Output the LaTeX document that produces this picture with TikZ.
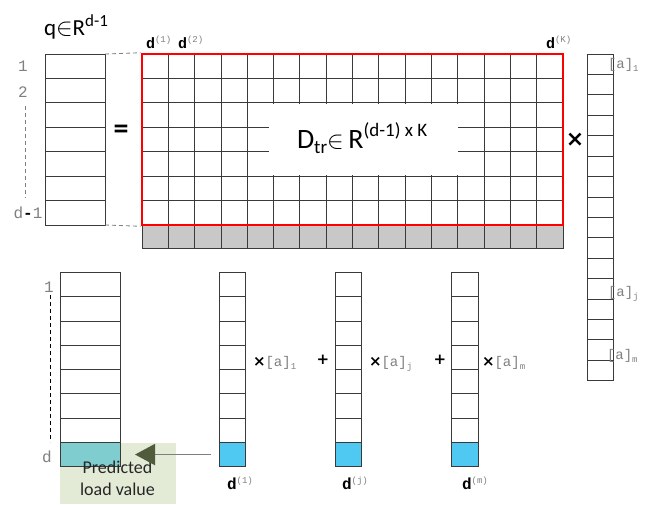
\documentclass[tikz,border=0pt]{standalone}
\usepackage{fontspec}
\setmainfont{Carlito}
\newfontfamily\monof{Liberation Mono}
\newfontfamily\djv{DejaVu Sans}
\usetikzlibrary{arrows.meta}
\definecolor{gridc}{HTML}{3A3A3A}
\definecolor{grayrow}{HTML}{C8C8C8}
\definecolor{tealc}{HTML}{80CDD0}
\definecolor{bluec}{HTML}{4FC8F2}
\definecolor{greenbox}{HTML}{E3EBD7}
\definecolor{olivec}{HTML}{4F5B3B}
\definecolor{lblgray}{HTML}{808080}
\definecolor{arrowgray}{HTML}{7F7F7F}
\newcommand\mysup[1]{\raisebox{6pt}{\fontsize{9}{9}\selectfont\color{lblgray}#1}}
\newcommand\mysub[1]{\raisebox{-3pt}{\fontsize{9}{9}\selectfont\color{lblgray}#1}}
\newcommand\dtop[1]{{\monof\bfseries\fontsize{15}{15}\selectfont d}{\monof\mysup{(#1)}}}
\newcommand\dbot[1]{{\monof\bfseries\fontsize{16}{16}\selectfont d}{\monof\mysup{(#1)}}}
\newcommand\acoef[1]{{\monof\fontsize{14}{14}\selectfont\color{lblgray}[a]}{\monof\mysub{#1}}}
\begin{document}
\begin{tikzpicture}[x=1pt,y=-1pt,
  gridline/.style={draw=gridc, line width=0.8pt},
  cellbox/.style={draw=gridc, line width=0.8pt, inner sep=0pt, outer sep=0pt},
  lbl/.style={inner sep=0pt, outer sep=0pt},
  monolbl/.style={lbl, font=\monof\fontsize{16}{16}\selectfont, text=lblgray},
  opsym/.style={lbl, font=\djv\bfseries\fontsize{15}{15}\selectfont}]
\fill[white] (0,0) rectangle (659,504);
\useasboundingbox (0,0) rectangle (659,504);

% ---------- q vector ----------
\node[cellbox, minimum width=60pt, minimum height=171pt] (q) at (75,139.5) {};
\foreach \i in {1,...,6} \draw[gridline] (45,54+\i*24.43) -- (105,54+\i*24.43);
\node[lbl, anchor=base west, font=\fontsize{23}{23}\selectfont] (qlab) at (44,35)
  {q$\in$R\raisebox{9pt}{\fontsize{17}{17}\selectfont d-1}};
\node[monolbl, anchor=base] (q1) at (23,71) {1};
\node[monolbl, anchor=base] (q2) at (23,97) {2};
\node[monolbl, anchor=base] (qd) at (28,218) {d{\color{black}\textbf{-}}1};
\coordinate (qdashA) at (25,106);
\coordinate (qdashB) at (25,198);
\draw[lblgray, line width=0.8pt, dash pattern=on 4pt off 3pt] (qdashA) -- (qdashB);

% ---------- matrix D ----------
\fill[grayrow] (142,225) rectangle (563,248);
\foreach \j in {1,...,15} \draw[gridline] (142+\j*26.3125,54) -- (142+\j*26.3125,248);
\foreach \i in {1,...,6} \draw[gridline] (142,54+\i*24.43) -- (563,54+\i*24.43);
\draw[gridline] (142,225) -- (142,248) -- (563,248) -- (563,225);
\fill[white] (269,103.8) rectangle (458.3,175.3);
\node[draw=red, line width=2.6pt, inner sep=0pt, minimum width=421pt, minimum height=171pt] (D) at (352.5,139.5) {};
\node[lbl, anchor=base west, font=\fontsize{28}{28}\selectfont] (Dlab) at (297,148)
  {D\raisebox{-5pt}{\fontsize{19}{19}\selectfont tr}$\in$\,R\raisebox{12pt}{\fontsize{19}{19}\selectfont (d-1) x K}};
\node[lbl, anchor=base west] (dt1) at (146,48) {\dtop{1}};
\node[lbl, anchor=base west] (dt2) at (178,48) {\dtop{2}};
\node[lbl, anchor=base west] (dtK) at (546,48) {\dtop{K}};
\draw[lblgray, line width=0.8pt, dash pattern=on 4pt off 3pt] (q.north east) -- (D.north west);
\draw[lblgray, line width=0.8pt, dash pattern=on 4pt off 3pt] (q.south east) -- (D.south west);
\node[lbl, font=\fontsize{30}{30}\selectfont\bfseries] (eq) at (121,132) {=};
\node[lbl, font=\djv\bfseries\fontsize{22}{22}\selectfont] (times) at (575,140) {×};

% ---------- coefficient vector a ----------
\node[cellbox, minimum width=26pt, minimum height=326.7pt] (a) at (600,217.35) {};
\foreach \i in {1,...,15} \draw[gridline] (587,54+\i*20.42) -- (613,54+\i*20.42);
\node[lbl, anchor=base west] (a1) at (608,68) {\acoef{1}};
\node[lbl, anchor=base west] (aj) at (608,296) {\acoef{j}};
\node[lbl, anchor=base west] (am) at (607,359) {\acoef{m}};

% ---------- bottom: prediction ----------
\node[fill=greenbox, inner sep=0pt, minimum width=116pt, minimum height=61pt] (predbox) at (118,473.5) {};
\node[cellbox, fill=tealc, minimum width=60pt, minimum height=24.3pt] (plast) at (90,454.55) {};
\node[cellbox, minimum width=60pt, minimum height=194.4pt] (p) at (90,369.5) {};
\foreach \i in {1,...,7} \draw[gridline] (60,272.3+\i*24.3) -- (120,272.3+\i*24.3);
\node[monolbl, anchor=base] (p1) at (49,292) {1};
\node[monolbl, anchor=base] (pd) at (47,462) {d};
\coordinate (pdashA) at (50.7,295);
\coordinate (pdashB) at (50.7,442);
\draw[black, line width=0.8pt, dash pattern=on 4pt off 3pt] (pdashA) -- (pdashB);
\node[lbl, anchor=base, font=\fontsize{18}{18}\selectfont, text={black!85}] (pt1) at (117.5,473) {Predicted};
\node[lbl, anchor=base, font=\fontsize{18}{18}\selectfont, text={black!85}] (pt2) at (117.5,495) {load value};

% ---------- bottom: column vectors ----------
\foreach \xl/\nm in {219.3/v1, 335.3/vj, 451.7/vm} {
  \node[cellbox, fill=bluec, minimum width=26.4pt, minimum height=24.3pt] (\nm last) at (\xl+13.2,454.55) {};
  \node[cellbox, minimum width=26.4pt, minimum height=194.4pt] (\nm) at (\xl+13.2,369.5) {};
  \foreach \i in {1,...,7} \draw[gridline] (\xl,272.3+\i*24.3) -- (\xl+26.4,272.3+\i*24.3);
}
\node[lbl, anchor=base west] (db1) at (227,489) {\dbot{1}};
\node[lbl, anchor=base west] (dbj) at (342,489) {\dbot{j}};
\node[lbl, anchor=base west] (dbm) at (462,489) {\dbot{m}};

\node[lbl, anchor=base west] (c1) at (253,366) {{\djv\bfseries\fontsize{15}{15}\selectfont ×}\acoef{1}};
\node[opsym] (plus1) at (323,360) {+};
\node[lbl, anchor=base west] (cj) at (369,366) {{\djv\bfseries\fontsize{15}{15}\selectfont ×}\acoef{j}};
\node[opsym] (plus2) at (440,360) {+};
\node[lbl, anchor=base west] (cm) at (482,366) {{\djv\bfseries\fontsize{15}{15}\selectfont ×}\acoef{m}};

% ---------- arrow ----------
\draw[line width=1.8pt, draw=arrowgray, -{Triangle[length=20pt,width=21pt,fill=olivec,color=olivec]}]
  ([xshift=-8pt]v1last.west) -- ([xshift=15pt]plast.east);
\end{tikzpicture}
\end{document}
